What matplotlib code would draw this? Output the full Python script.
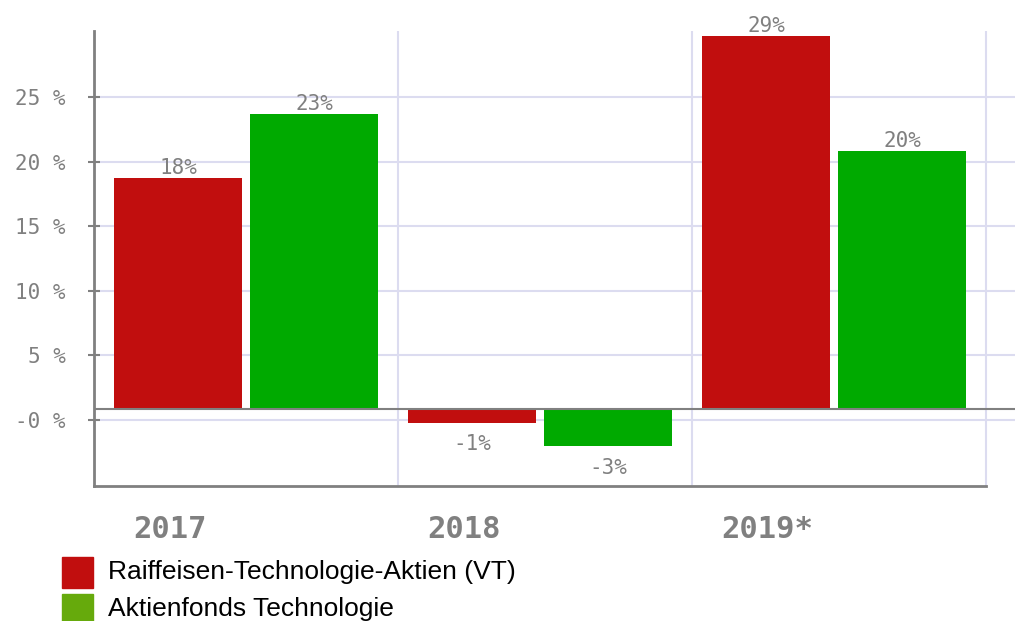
import numpy as np
import matplotlib
matplotlib.use('Agg')
import matplotlib.pyplot as plt
from matplotlib.patches import Rectangle

# data
years = ['2017', '2018', '2019*']
raiffeisen = [17.9, -1.1, 28.9]
aktienfonds = [22.9, -2.9, 20.0]
raiffeisen_labels = ['18%', '-1%', '29%']
aktienfonds_labels = ['23%', '-3%', '20%']
series_names = ['Raiffeisen-Technologie-Aktien (VT)', 'Aktienfonds Technologie']
tick_labels = ['-0 %', '5 %', '10 %', '15 %', '20 %', '25 %']

red = '#c10e0e'
green = '#00aa00'
legend_green = '#66aa0c'
grey = '#808080'
gridc = '#dcdcf0'
mono = 'DejaVu Sans Mono'

fig = plt.figure(figsize=(10.15, 6.21), dpi=100)
ax = fig.add_axes([94 / 1015, 135 / 621, 921 / 1015, 455 / 621])
# one group = 294 px, groups start 10 px right of the y axis
ax.set_xlim(-10 / 294, 911 / 294)
ax.set_ylim(-5.97, 29.3)

# horizontal gridlines sit a bit below the round values in the original
ticks = np.arange(0, 30, 5) - 0.84
for t in ticks:
    ax.axhline(t, color=gridc, lw=1.5, zorder=0)
for gx in [1, 2, 3]:
    ax.axvline(gx, color=gridc, lw=1.5, zorder=0)

x = np.arange(len(years))
w = 128 / 294
off = 10 / 294
gap = 8 / 294
b1 = ax.bar(x + off, raiffeisen, w, align='edge', color=red, zorder=2)
b2 = ax.bar(x + off + w + gap, aktienfonds, w, align='edge', color=green, zorder=2)

ax.axhline(0, color=grey, lw=1.5, zorder=3)

for bars, labels in [(b1, raiffeisen_labels), (b2, aktienfonds_labels)]:
    for bar, lab in zip(bars, labels):
        h = bar.get_height()
        cx = bar.get_x() + bar.get_width() / 2
        if h >= 0:
            ax.annotate(lab, (cx, h), xytext=(0, 0), textcoords='offset points',
                        ha='center', va='bottom', fontsize=15, family=mono,
                        color=grey, clip_on=False)
        else:
            ax.annotate(lab, (cx, h), xytext=(0, -8), textcoords='offset points',
                        ha='center', va='top', fontsize=15, family=mono,
                        color=grey, clip_on=False)

ax.set_yticks(ticks)
ax.set_yticklabels(tick_labels, family=mono, fontsize=15, color=grey)
ax.tick_params(axis='y', direction='inout', length=9, width=1.5, color=grey, pad=16)
ax.set_xticks([])

for s in ['top', 'right']:
    ax.spines[s].set_visible(False)
ax.spines['left'].set_color(grey)
ax.spines['left'].set_linewidth(2)
ax.spines['bottom'].set_color(grey)
ax.spines['bottom'].set_linewidth(2)
ax.spines['bottom'].set_bounds(-10 / 294, 3)

# category labels under the axis
for i, yr in enumerate(years):
    fig.text((104 + 294 * i + 29) / 1015, 1 - 530 / 621, yr, ha='left', va='center',
             family=mono, fontweight='bold', fontsize=22, color=grey)

# legend
for i, (name, c) in enumerate(zip(series_names, [red, legend_green])):
    yc = 572 + 37 * i
    fig.patches.append(Rectangle((62 / 1015, 1 - (yc + 16) / 621), 31 / 1015, 31 / 621,
                                 transform=fig.transFigure, color=c, figure=fig))
    fig.text(108 / 1015, 1 - yc / 621, name, ha='left', va='center',
             family='Liberation Sans', fontsize=19, color='black')

fig.savefig('out.png', dpi=100)
